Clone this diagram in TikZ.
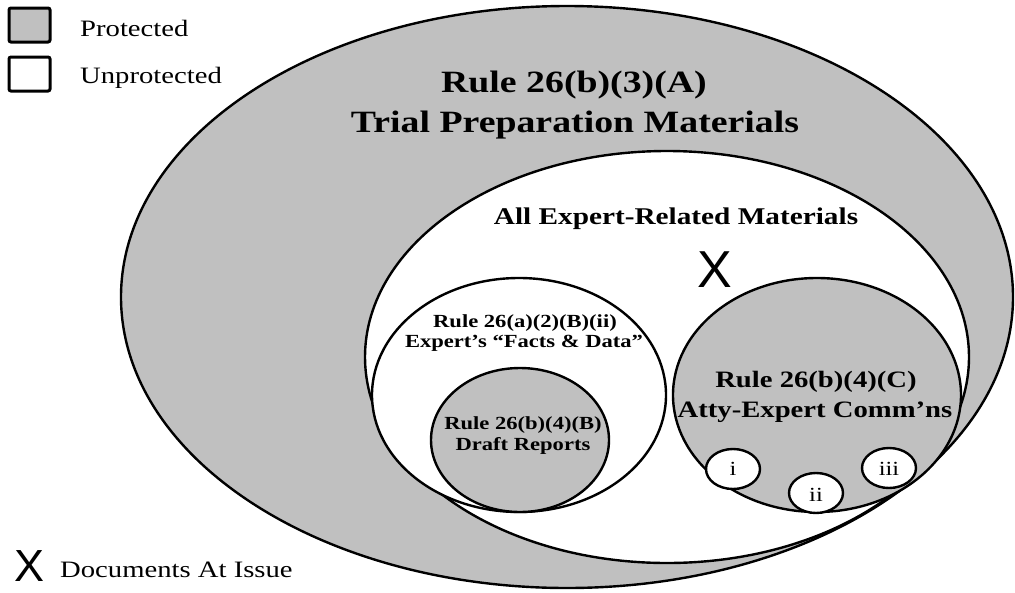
\documentclass[tikz,border=0pt]{standalone}
\usepackage{fontspec}
\setmainfont{Liberation Serif}
\newfontfamily\wserif[FakeStretch=1.22]{Liberation Serif}
\newfontfamily\xsans{Liberation Sans}
\definecolor{prot}{HTML}{C0C0C0}
\tikzset{
  region/.style={draw=black, line width=2.4pt},
  protected/.style={region, fill=prot},
  unprotected/.style={region, fill=white},
  legbox/.style={draw=black, line width=3pt, rounded corners=2pt},
  lbl/.style={inner sep=0pt, anchor=base},
  titlefont/.style={font=\wserif\bfseries\fontsize{31}{37}\selectfont},
  midfont/.style={font=\wserif\bfseries\fontsize{24}{29}\selectfont},
  commfont/.style={font=\wserif\bfseries\fontsize{23.5}{28}\selectfont},
  smallfont/.style={font=\wserif\bfseries\fontsize{18.5}{22}\selectfont},
  romfont/.style={font=\wserif\fontsize{20}{24}\selectfont},
  legfont/.style={font=\wserif\fontsize{23.5}{28}\selectfont},
  xfont/.style={font=\xsans\fontsize{45}{50}\selectfont, text depth=0pt},
}
\begin{document}
\begin{tikzpicture}[x=1pt, y=-1pt]
\useasboundingbox (0,0) rectangle (1015,592);
% regions
\path[protected] (567,297) ellipse [x radius=446, y radius=291];
\path[unprotected] (667,357) ellipse [x radius=302, y radius=206];
\path[unprotected] (519,395) ellipse [x radius=147, y radius=117];
\path[protected] (520,440) ellipse [x radius=89, y radius=72];
\path[protected] (817,395) ellipse [x radius=144, y radius=117];
\path[unprotected] (733,469) ellipse [x radius=27, y radius=20];
\path[unprotected] (816,493) ellipse [x radius=27, y radius=20];
\path[unprotected] (889,468) ellipse [x radius=27, y radius=20];
% texts
\node[lbl, titlefont] (title1) at (574,92) {Rule 26(b)(3)(A)};
\node[lbl, titlefont] (title2) at (575,132) {Trial Preparation Materials};
\node[lbl, midfont] (expert) at (676,224) {All Expert-Related Materials};
\node[lbl, xfont, font=\xsans\fontsize{52}{60}\selectfont] (xmid) at (715,287) {X};
\node[lbl, smallfont] (facts1) at (525,327) {Rule 26(a)(2)(B)(ii)};
\node[lbl, smallfont] (facts2) at (524,347.5) {Expert’s “Facts \& Data”};
\node[lbl, smallfont] (draft1) at (523,429) {Rule 26(b)(4)(B)};
\node[lbl, smallfont] (draft2) at (523,450.5) {Draft Reports};
\node[lbl, commfont] (comm1) at (816,387) {Rule 26(b)(4)(C)};
\node[lbl, commfont] (comm2) at (815,417) {Atty-Expert Comm’ns};
\node[lbl, romfont] (ri) at (733,475) {i};
\node[lbl, romfont] (rii) at (816,501) {ii};
\node[lbl, romfont] (riii) at (889,475) {iii};
% legend
\draw[legbox, fill=prot] (9,8) rectangle (50,42);
\draw[legbox, fill=white] (9,57) rectangle (50,91);
\node[lbl, legfont, anchor=base west] (lprot) at (80,36) {Protected};
\node[lbl, legfont, anchor=base west] (lunprot) at (80,83) {Unprotected};
\node[lbl, xfont] (xleg) at (30,581) {X};
\node[lbl, legfont, anchor=base west] (ldocs) at (60,577) {Documents At Issue};
\end{tikzpicture}
\end{document}
